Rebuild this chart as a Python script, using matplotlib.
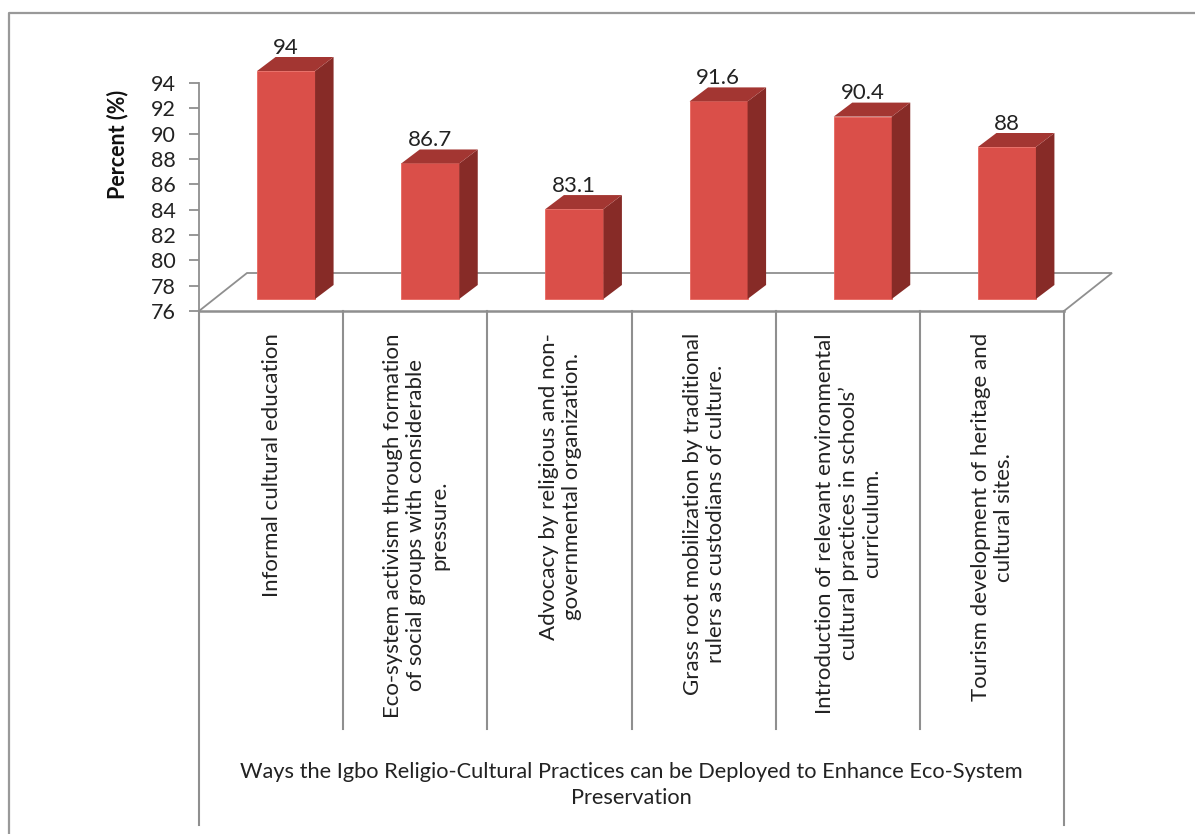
import matplotlib
matplotlib.use('Agg')
import matplotlib.pyplot as plt
from matplotlib.lines import Line2D
from matplotlib.patches import Polygon

plt.rcParams['font.family'] = ['Lato', 'DejaVu Sans']

categories = [
    'Informal cultural education',
    'Eco-system activism through formation\nof social groups with considerable\npressure.',
    'Advocacy by religious and non-\ngovernmental organization.',
    'Grass root mobilization by traditional\nrulers as custodians of culture.',
    'Introduction of relevant environmental\ncultural practices in schools\u2019\ncurriculum.',
    'Tourism development of heritage and\ncultural sites.',
]
values = [94, 86.7, 83.1, 91.6, 90.4, 88]
value_labels = ['94', '86.7', '83.1', '91.6', '90.4', '88']
yticks = [76, 78, 80, 82, 84, 86, 88, 90, 92, 94]
ylabel = 'Percent (%)'
xlabel = 'Ways the Igbo Religio-Cultural Practices can be Deployed to Enhance Eco-System\nPreservation'

W, H = 1195, 834
LEFT, RIGHT, BASE, TOP = 199, 1064, 311, 83
GREY = '#8f8f8f'
INK = '#222222'

fig = plt.figure(figsize=(W / 100, H / 100), dpi=100)
fig.patch.set_facecolor('white')
ax = fig.add_axes([LEFT / W, 1 - BASE / H, (RIGHT - LEFT) / W, (BASE - TOP) / H])
ax.set_xlim(0, 6)
ax.set_ylim(76, 94)
ax.patch.set_visible(False)
for s in ['top', 'right', 'bottom']:
    ax.spines[s].set_visible(False)
ax.spines['left'].set_color(GREY)
ax.spines['left'].set_linewidth(1.3)

# pixels to data units
ux = (RIGHT - LEFT) / 6
uy = (BASE - TOP) / 18

# outer frame, only top and left are in the picture
fig.add_artist(Line2D([9 / W, 9 / W, 1], [0, 1 - 13 / H, 1 - 13 / H], transform=fig.transFigure,
                      color='#999999', lw=1.6))

ax.set_yticks(yticks)
ax.tick_params(axis='y', length=7, width=1.3, color=GREY, labelsize=15.5, labelcolor=INK, pad=10)
ax.set_xticks([])
fig.text(118 / W, 1 - 144 / H, ylabel, rotation=90, ha='center', va='center',
         fontsize=15.5, fontweight='bold', color='#111111')

# floor
fdx, fdy = 48 / ux, 38 / uy
floor_x = [0, fdx, 6 + fdx, 6]
floor_y = [76, 76 + fdy, 76 + fdy, 76]
ax.add_patch(Polygon(list(zip(floor_x, floor_y)), closed=False, fill=False, ec=GREY, lw=1.3,
                     clip_on=False, zorder=1))
ax.plot([0, 6], [76, 76], color=GREY, lw=1.8, clip_on=False, zorder=1)

# bars
width = 58 / ux
off_x, off_y = 15 / ux, 12 / uy
side_x, side_y = 18.5 / ux, 14 / uy
pos = [i + 0.5 + off_x for i in range(6)]
ax.bar(pos, [v - 76 for v in values], width=width, bottom=76 + off_y, color='#da4f49',
       edgecolor='#e8675f', linewidth=0.6, clip_on=False, zorder=3)
for x, v, t in zip(pos, values, value_labels):
    x0, x1 = x - width / 2, x + width / 2
    top = v + off_y
    ax.add_patch(Polygon([(x1, 76 + off_y), (x1 + side_x, 76 + off_y + side_y),
                          (x1 + side_x, top + side_y), (x1, top)],
                         fc='#872b27', ec='none', clip_on=False, zorder=3))
    ax.add_patch(Polygon([(x0, top), (x0 + side_x, top + side_y),
                          (x1 + side_x, top + side_y), (x1, top)],
                         fc='#a33632', ec='none', clip_on=False, zorder=3))
    ax.text(x - 0.003, top + side_y - 0.05, t, ha='center', va='bottom', fontsize=16, color=INK,
            clip_on=False, zorder=4)

# table style category area below the axis
for i in range(1, 6):
    ax.plot([i, i], [76, 76 - (729 - BASE) / uy], color=GREY, lw=1.5, clip_on=False)
for i in (0, 6):
    ax.plot([i, i], [76, 76 - (825 - BASE) / uy], color=GREY, lw=1.5, clip_on=False)

for i, c in enumerate(categories):
    ax.text(i + 0.505, 76 - (333 - BASE) / uy, c, rotation=90, ha='center', va='top',
            multialignment='center', fontsize=16, color=INK, linespacing=1.2, clip_on=False)

ax.text(3, 76 - (785 - BASE) / uy, xlabel, ha='center', va='center', multialignment='center',
        fontsize=15.7, color=INK, linespacing=1.32, clip_on=False)

fig.savefig('out.png', dpi=100)
